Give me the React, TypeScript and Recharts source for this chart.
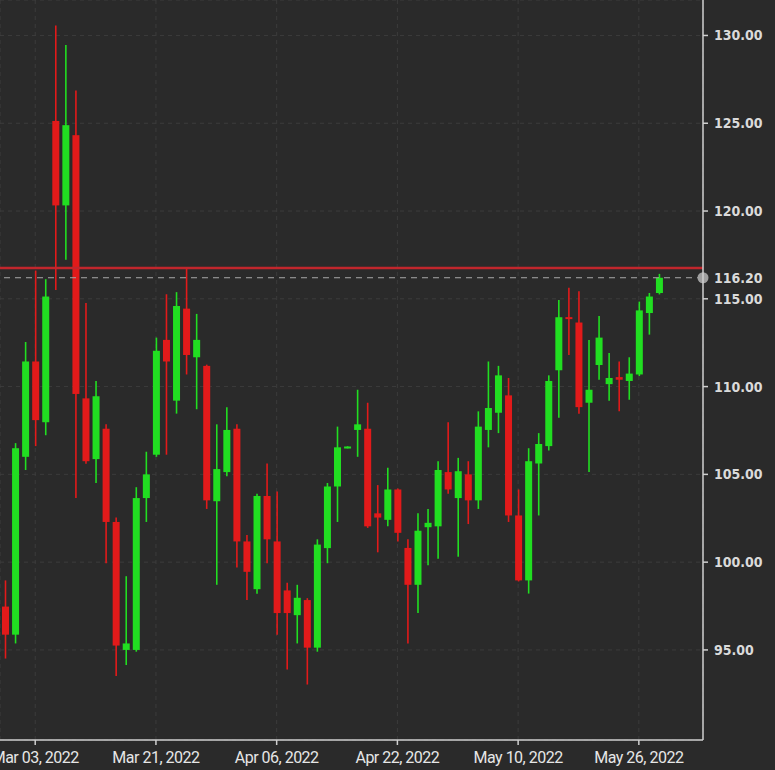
import { Bar, CartesianGrid, ComposedChart, ReferenceLine, XAxis, YAxis } from "recharts";

// trading days shown on the chart (first candle is clipped at the left edge)
const DATES = [
  "Feb 28, 2022", "Mar 01, 2022", "Mar 02, 2022", "Mar 03, 2022", "Mar 04, 2022",
  "Mar 07, 2022", "Mar 08, 2022", "Mar 09, 2022", "Mar 10, 2022", "Mar 11, 2022",
  "Mar 14, 2022", "Mar 15, 2022", "Mar 16, 2022", "Mar 17, 2022", "Mar 18, 2022",
  "Mar 21, 2022", "Mar 22, 2022", "Mar 23, 2022", "Mar 24, 2022", "Mar 25, 2022",
  "Mar 28, 2022", "Mar 29, 2022", "Mar 30, 2022", "Mar 31, 2022", "Apr 01, 2022",
  "Apr 04, 2022", "Apr 05, 2022", "Apr 06, 2022", "Apr 07, 2022", "Apr 08, 2022",
  "Apr 11, 2022", "Apr 12, 2022", "Apr 13, 2022", "Apr 14, 2022", "Apr 15, 2022",
  "Apr 18, 2022", "Apr 19, 2022", "Apr 20, 2022", "Apr 21, 2022", "Apr 22, 2022",
  "Apr 25, 2022", "Apr 26, 2022", "Apr 27, 2022", "Apr 28, 2022", "Apr 29, 2022",
  "May 02, 2022", "May 03, 2022", "May 04, 2022", "May 05, 2022", "May 06, 2022",
  "May 09, 2022", "May 10, 2022", "May 11, 2022", "May 12, 2022", "May 13, 2022",
  "May 16, 2022", "May 17, 2022", "May 18, 2022", "May 19, 2022", "May 20, 2022",
  "May 23, 2022", "May 24, 2022", "May 25, 2022", "May 26, 2022", "May 27, 2022",
  "May 30, 2022",
];

const OPEN = [
  97.47, 95.87, 106.0, 111.43, 107.97, 125.13, 120.32, 124.32, 109.33, 105.87,
  107.6, 102.29, 95.0, 95.0, 103.65, 106.12, 112.66, 109.2, 114.44, 111.67,
  111.18, 103.47, 105.13, 107.6, 101.18, 98.46, 103.77, 101.18, 98.39, 96.98,
  97.84, 95.13, 100.8, 104.31, 106.5, 107.53, 107.6, 102.78, 102.41, 104.14,
  100.81, 98.71, 101.99, 102.04, 105.13, 103.65, 105.0, 103.52, 107.53, 108.51,
  109.5, 102.66, 98.96, 105.62, 106.61, 110.93, 113.95, 113.65, 109.08, 111.23,
  110.14, 110.54, 110.32, 110.69, 114.19, 115.33,
];

const HIGH = [
  98.96, 106.78, 112.54, 116.61, 116.12, 130.57, 129.46, 126.86, 114.76, 110.32,
  107.85, 102.54, 99.2, 104.27, 106.29, 112.79, 115.26, 115.38, 116.74, 114.14,
  111.25, 107.85, 108.83, 107.85, 101.55, 103.9, 105.62, 104.02, 98.83, 98.71,
  97.95, 101.3, 104.51, 107.72, 106.6, 109.82, 109.08, 104.39, 105.38, 104.2,
  101.3, 102.78, 103.03, 105.75, 107.97, 105.94, 105.75, 108.59, 111.43, 111.18,
  110.49, 104.14, 106.49, 107.35, 110.64, 114.93, 115.63, 115.43, 112.66, 114.02,
  111.92, 111.43, 111.67, 114.84, 115.33, 116.42,
];

const LOW = [
  94.51, 95.37, 105.25, 106.61, 107.23, 115.5, 117.23, 103.65, 105.6, 104.51,
  99.94, 93.52, 94.14, 94.9, 102.29, 106.0, 106.12, 108.46, 110.69, 108.71,
  103.03, 98.71, 104.9, 99.7, 97.84, 98.2, 99.94, 95.87, 93.89, 95.37,
  93.03, 94.9, 99.94, 102.29, 106.48, 106.0, 101.95, 100.56, 102.04, 101.18,
  95.37, 97.1, 99.82, 100.19, 103.9, 100.31, 102.17, 103.03, 106.54, 107.35,
  102.29, 98.9, 98.21, 102.66, 106.36, 108.22, 111.8, 108.46, 105.13, 110.39,
  109.2, 108.59, 109.25, 110.6, 112.96, 115.25,
];

const CLOSE = [
  95.87, 106.49, 111.43, 108.09, 115.13, 120.32, 124.89, 109.58, 105.75, 109.45,
  102.29, 95.25, 95.37, 103.65, 105.0, 112.04, 111.43, 114.59, 111.8, 112.66,
  103.52, 105.3, 107.53, 101.18, 99.45, 103.77, 101.3, 97.1, 97.1, 97.97,
  95.13, 101.0, 104.31, 106.54, 106.56, 107.85, 102.04, 102.54, 104.14, 101.67,
  98.71, 101.79, 102.24, 105.25, 104.14, 105.18, 103.52, 107.72, 108.78, 110.64,
  102.66, 98.96, 105.75, 106.73, 110.32, 113.95, 113.85, 108.83, 109.82, 112.79,
  110.49, 110.39, 110.74, 114.34, 115.13, 116.2,
];

const TICK_DATES = [
  "Mar 03, 2022", "Mar 21, 2022", "Apr 06, 2022",
  "Apr 22, 2022", "May 10, 2022", "May 26, 2022",
];
const PRICE_TICKS = [95, 100, 105, 110, 115, 120, 125, 130];
const LAST_PRICE = 116.2;
const RESISTANCE = 116.75;

const UP = "#21de21";
const DOWN = "#e21a1a";
const BG = "#2a2a2a";
const AXIS = "#cfcfcf";
const PRICE_FONT = "'DejaVu Sans Condensed', 'DejaVu Sans', sans-serif";
const DATE_FONT = "Roboto, sans-serif";

const data = DATES.map((date, i) => ({
  date,
  open: OPEN[i],
  high: HIGH[i],
  low: LOW[i],
  close: CLOSE[i],
}));

// the bar spans low..high, so wick + body are placed inside it
function Candle(props: any) {
  const { x, y, width, height, payload } = props;
  const top = Math.min(y, y + height);
  const h = Math.abs(height);
  const { open, high, low, close } = payload;
  const perUnit = h / (high - low);
  const yOf = (v: number) => top + (high - v) * perUnit;
  const color = close >= open ? UP : DOWN;
  const cx = x + width / 2;
  let bodyTop = yOf(Math.max(open, close));
  let bodyH = yOf(Math.min(open, close)) - bodyTop;
  if (bodyH < 2) {
    bodyTop -= (2 - bodyH) / 2;
    bodyH = 2;
  }
  return (
    <g>
      <line x1={cx} x2={cx} y1={top} y2={top + h} stroke={color} strokeWidth={1.6} />
      <rect x={x} y={bodyTop} width={width} height={bodyH} fill={color} />
    </g>
  );
}

function LastPriceLabel(props: any) {
  const { viewBox } = props;
  const x = viewBox.x + viewBox.width;
  const y = viewBox.y;
  return (
    <g>
      <circle cx={x} cy={y} r={5.5} fill="#a0a0a0" />
      <text
        x={x + 11}
        y={y}
        dy="0.355em"
        fill="#dadada"
        fontSize={14}
        fontWeight="bold"
        fontFamily={PRICE_FONT}
      >
        {LAST_PRICE.toFixed(2)}
      </text>
    </g>
  );
}

export default function App() {
  return (
    <div style={{ position: "absolute", left: 0, top: 0, width: 775, height: 770, background: BG }}>
      <ComposedChart width={775} height={770} data={data} margin={{ top: 0, right: 0, bottom: 0, left: 0 }}>
        <CartesianGrid stroke="#3c3c3c" strokeDasharray="4 4" />
        <XAxis
          dataKey="date"
          ticks={TICK_DATES}
          interval={0}
          padding={{ left: 0, right: 39 }}
          height={30}
          stroke={AXIS}
          strokeWidth={1.5}
          tickSize={5}
          tickMargin={7}
          tick={{ fill: "#e6e6e6", fontSize: 16, letterSpacing: -0.5, fontFamily: DATE_FONT }}
        />
        <YAxis
          orientation="right"
          width={72}
          type="number"
          domain={[89.87, 132.02]}
          allowDataOverflow
          ticks={PRICE_TICKS}
          interval={0}
          stroke={AXIS}
          strokeWidth={1.5}
          tickSize={5}
          tickMargin={6}
          tickFormatter={(v: number) => v.toFixed(2)}
          tick={{ fill: "#dadada", fontSize: 14, fontWeight: "bold", fontFamily: PRICE_FONT }}
        />
        <ReferenceLine y={RESISTANCE} stroke="#c1262c" strokeWidth={2.5} />
        <ReferenceLine
          y={LAST_PRICE}
          stroke="#a8a8a8"
          strokeDasharray="6 5"
          label={<LastPriceLabel />}
        />
        <Bar
          dataKey={(d: any) => [d.low, d.high]}
          barSize={7}
          shape={<Candle />}
          isAnimationActive={false}
        />
      </ComposedChart>
    </div>
  );
}
